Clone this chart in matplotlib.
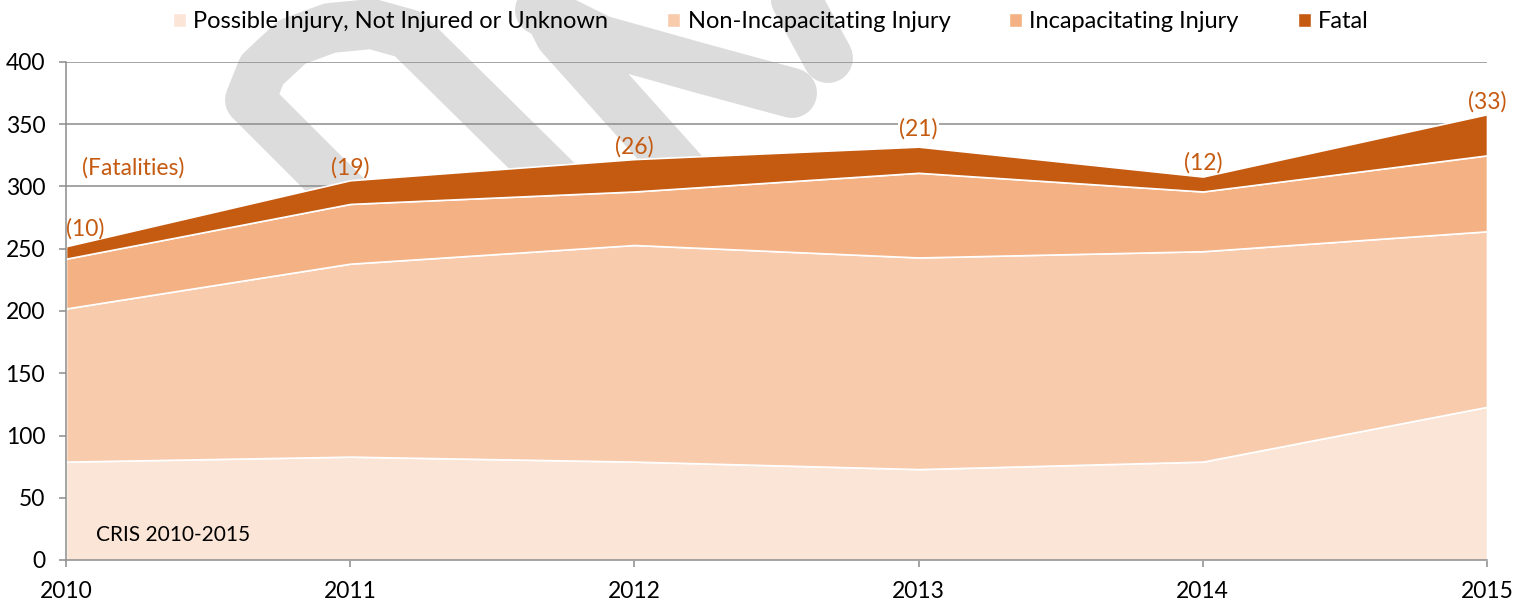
import numpy as np
import matplotlib
matplotlib.use("Agg")
import matplotlib.pyplot as plt
from matplotlib.lines import Line2D
from matplotlib.patches import Patch

plt.rcParams['font.family'] = ['Lato', 'DejaVu Sans']

# data
years = [2010, 2011, 2012, 2013, 2014, 2015]
possible = [79, 83, 79, 73, 79, 123]
non_incap = [123, 155, 174, 170, 169, 141]
incap = [40, 48, 43, 68, 48, 61]
fatal = [10, 19, 26, 21, 12, 33]
labels = ['Possible Injury, Not Injured or Unknown', 'Non-Incapacitating Injury',
          'Incapacitating Injury', 'Fatal']
colors = ['#FBE5D6', '#F8CBAD', '#F4B183', '#C55A11']

W, H = 1528, 603
fig = plt.figure(figsize=(W / 100, H / 100), dpi=100)
ax = fig.add_axes([66 / W, 1 - 560 / H, (1487 - 66) / W, (560 - 62) / H])
ax.set_facecolor('none')

# grey "DRAFT" watermark strokes behind the plot (pixel paths)
def px(pts):
    return [p[0] / W for p in pts], [1 - p[1] / H for p in pts]

wm_paths = [
    [(420, 270), (250, 100), (262, 70), (292, 42), (330, 28), (372, 24), (408, 34),
     (548, 172), (620, 244)],
    [(690, 180), (560, 35), (545, 5)],
    [(540, 10), (600, 40), (700, 68), (792, 93)],
    [(780, -30), (828, 58)],
]
for p in wm_paths:
    xs, ys = px(p)
    fig.add_artist(Line2D(xs, ys, color='#dcdcdc', lw=36, solid_capstyle='round',
                          solid_joinstyle='round', zorder=-1))

ax.stackplot(years, possible, non_incap, incap, fatal, colors=colors,
             edgecolor='white', linewidth=1.2, zorder=2)

ax.set_xlim(2010, 2015)
ax.set_ylim(0, 400)
ax.set_yticks(np.arange(0, 401, 50))
ax.set_xticks(years)
ax.yaxis.grid(True, color='#8c8c8c', linewidth=1.1, zorder=1)
ax.set_axisbelow(True)
for s in ['top', 'right']:
    ax.spines[s].set_visible(False)
for s in ['left', 'bottom']:
    ax.spines[s].set_color('#8c8c8c')
    ax.spines[s].set_linewidth(1.1)
    ax.spines[s].set_zorder(3)
ax.tick_params(axis='both', colors='#8c8c8c', labelcolor='black', labelsize=16.5,
               length=5, width=1.1)
ax.tick_params(axis='y', pad=10)
ax.tick_params(axis='x', pad=10)

# fatality labels
totals = np.array(possible) + np.array(non_incap) + np.array(incap) + np.array(fatal)
lc = '#C55A11'
shift_x = [14, 0, 0, 0, 0, 0]
shift_y = [5, 1, 1, 5, 2, 1]
for i, (yr, f) in enumerate(zip(years, fatal)):
    bbox = dict(facecolor='white', edgecolor='none', pad=1) if yr == 2013 else None
    ax.annotate(f'({f})', (yr, totals[i]), xytext=(shift_x[i], shift_y[i]),
                textcoords='offset points', ha='center', va='bottom', color=lc,
                fontsize=16.5, bbox=bbox, annotation_clip=False)
ax.text(2010.057, 315, '(Fatalities)', color=lc, fontsize=16.5, ha='left', va='center')
ax.text(2010.105, 20, 'CRIS 2010-2015', color='black', fontsize=15, ha='left', va='center')

handles = [Patch(facecolor=c, edgecolor='white') for c in colors]
fig.legend(handles, labels, loc='center', bbox_to_anchor=(771 / W, 1 - 22 / H), ncol=4,
           frameon=False, fontsize=17, handlelength=0.55, handleheight=0.55,
           handletextpad=0.3, columnspacing=2.5)

fig.savefig('out.png', dpi=100)
